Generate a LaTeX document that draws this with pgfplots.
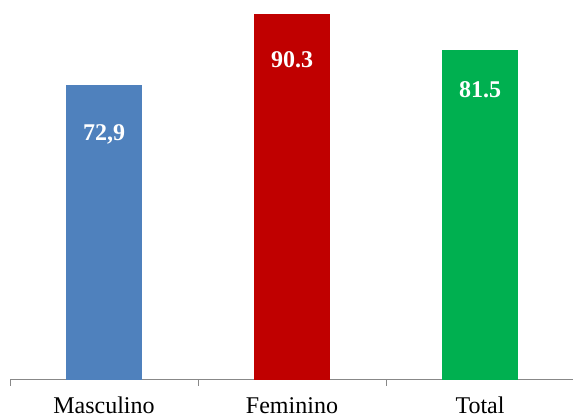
\documentclass[border=0pt]{standalone}
\usepackage{fontspec}
\setmainfont{Liberation Serif}
\usepackage{pgfplots}
\pgfplotsset{compat=1.18}
\definecolor{cblue}{HTML}{4F81BD}
\definecolor{cred}{HTML}{C00000}
\definecolor{cgreen}{HTML}{00B050}
\definecolor{axgray}{HTML}{888888}
\begin{document}
\begin{tikzpicture}
\begin{axis}[
  at={(0pt,0pt)}, anchor=south west,
  scale only axis,
  width=564pt, height=380pt,
  xmin=-0.5, xmax=2.5, ymin=0, ymax=93.76,
  axis x line*=bottom, axis y line=none,
  x axis line style={draw=axgray, line width=1pt},
  ybar, bar width=76pt, bar shift=0pt,
  xtick={0,1,2},
  xticklabels={Masculino,Feminino,Total},
  xtick style={draw=none},
  xticklabel style={anchor=base, yshift=-29pt, font=\fontsize{24}{28}\selectfont, inner sep=0pt},
  extra x ticks={-0.5,0.5,1.5,2.5},
  extra x tick labels={},
  extra x tick style={xtick style={draw=axgray, line width=1pt}, major tick length=6pt, tick align=outside},
  nodes near coords,
  nodes near coords style={anchor=base, text=white, font=\bfseries\fontsize{24}{28}\selectfont},
  clip=false,
]
\addplot[fill=cblue, draw=none, nodes near coords={72,9}, nodes near coords style={yshift=-56pt}] coordinates {(0,72.9)};
\addplot[fill=cred, draw=none, nodes near coords={90.3}, nodes near coords style={yshift=-53pt}] coordinates {(1,90.3)};
\addplot[fill=cgreen, draw=none, nodes near coords={81.5}, nodes near coords style={yshift=-48pt}] coordinates {(2,81.5)};
\end{axis}
\pgfresetboundingbox
\path[use as bounding box] (-10pt,-37pt) rectangle (563pt,380pt);
\end{tikzpicture}
\end{document}
